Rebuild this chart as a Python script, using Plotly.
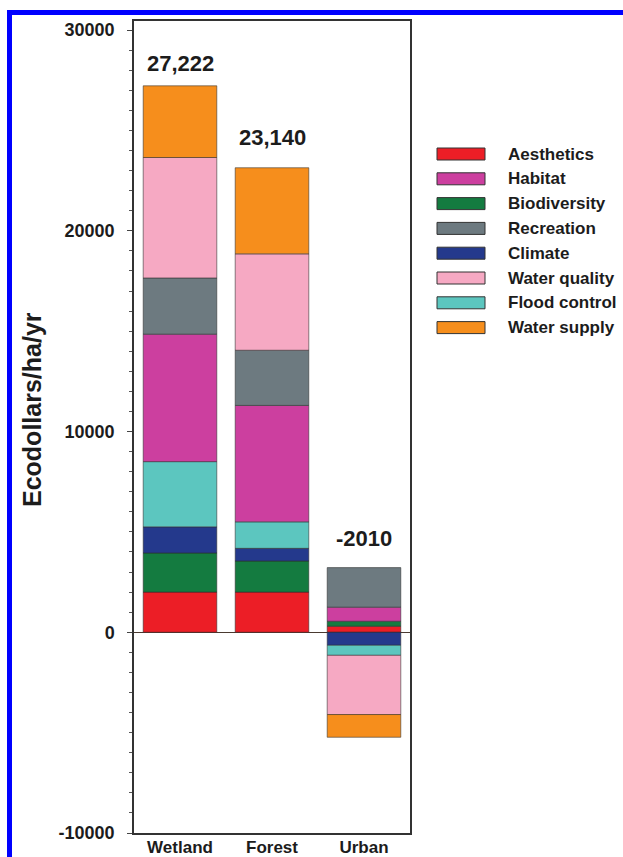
import plotly.graph_objects as go

# ---------------- data ----------------
categories = ["Wetland", "Forest", "Urban"]

# stacking order (alphabetical, as drawn in bars)
series_names = ["Aesthetics", "Biodiversity", "Climate", "Flood control",
                "Habitat", "Recreation", "Water quality", "Water supply"]
aesthetics    = [2000, 2000, 300]
biodiversity  = [1950, 1550, 250]
climate       = [1300, 630, -650]
flood_control = [3250, 1320, -500]
habitat       = [6350, 5800, 700]
recreation    = [2800, 2750, 1970]
water_quality = [6000, 4800, -2950]
water_supply  = [3572, 4290, -1130]

totals_text = ["27,222", "23,140", "-2010"]

legend_order = ["Aesthetics", "Habitat", "Biodiversity", "Recreation",
                "Climate", "Water quality", "Flood control", "Water supply"]

y_tickvals = [-10000, 0, 10000, 20000, 30000]
y_ticktext = ["-10000", "0", "10000", "20000", "30000"]

# ---------------- styles ----------------
colors = {
    "Aesthetics": "#EC1E26",
    "Habitat": "#CC3F9F",
    "Biodiversity": "#147B40",
    "Recreation": "#6D7A80",
    "Climate": "#24398C",
    "Water quality": "#F6A9C3",
    "Flood control": "#5CC6BF",
    "Water supply": "#F68E1C",
}
values = {
    "Aesthetics": aesthetics, "Biodiversity": biodiversity, "Climate": climate,
    "Flood control": flood_control, "Habitat": habitat, "Recreation": recreation,
    "Water quality": water_quality, "Water supply": water_supply,
}

W, H = 623, 857
L, R, T, B = 134, 410, 21, 833  # plot area in pixels
FONT = "Liberation Sans, Arial, Helvetica, sans-serif"
TXT = "#1c1c1c"


def px_x(px):
    return (px - L) / (R - L)


def px_y(py):
    return (B - py) / (B - T)


fig = go.Figure()
for name in series_names:
    fig.add_trace(go.Bar(
        x=categories, y=values[name], name=name,
        marker=dict(color=colors[name], line=dict(color="rgba(45,45,45,0.8)", width=0.7)),
        showlegend=False,
    ))

# total labels above each bar
pos_tops = [sum(v[i] for v in values.values() if v[i] > 0) for i in range(len(categories))]
label_shift = [22, 30, 29]
for i, cat in enumerate(categories):
    fig.add_annotation(x=cat, y=pos_tops[i], text=totals_text[i], showarrow=False,
                       yanchor="middle", yshift=label_shift[i],
                       font=dict(family=FONT, size=22, color=TXT, weight="bold"))

# y-axis title
fig.add_annotation(xref="paper", yref="paper", x=px_x(32), y=px_y(410),
                   text="Ecodollars/ha/yr", textangle=-90, showarrow=False,
                   xanchor="center", yanchor="middle",
                   font=dict(family=FONT, size=25, color=TXT, weight="bold"))

# custom legend (wide swatches)
for k, name in enumerate(legend_order):
    cy = 154 + k * 24.8
    fig.add_shape(type="rect", xref="paper", yref="paper",
                  x0=px_x(437), x1=px_x(485), y0=px_y(cy + 6), y1=px_y(cy - 6),
                  fillcolor=colors[name], line=dict(color="#333333", width=1))
    fig.add_annotation(xref="paper", yref="paper", x=px_x(506), y=px_y(cy),
                       text=name, showarrow=False, xanchor="left", yanchor="middle",
                       font=dict(family=FONT, size=17, color=TXT, weight="bold"))

# blue outer frame
fig.add_shape(type="rect", xref="paper", yref="paper",
              x0=px_x(9.5), x1=px_x(700), y0=px_y(920), y1=px_y(12.5),
              line=dict(color="#0000FF", width=5), fillcolor="rgba(0,0,0,0)", layer="above")

fig.update_layout(
    template="none",
    width=W, height=H,
    margin=dict(l=L, r=W - R, t=T, b=H - B, pad=0, autoexpand=False),
    barmode="relative", bargap=0.2,
    paper_bgcolor="white", plot_bgcolor="white",
    font=dict(family=FONT, color=TXT),
    showlegend=False,
)
fig.update_yaxes(
    automargin=False,
    range=[-10000, 30450], tickvals=y_tickvals, ticktext=y_ticktext,
    ticks="outside", ticklen=5, tickwidth=1, tickcolor="#444444",
    minor=dict(dtick=1000, ticks="outside", ticklen=3, tickwidth=1, tickcolor="#555555", showgrid=False),
    showline=True, linecolor="#333333", linewidth=1.5, mirror=True,
    showgrid=False, zeroline=True, zerolinecolor="#4a3a30", zerolinewidth=1,
    tickfont=dict(family=FONT, size=18, color=TXT, weight="bold"),
    ticklabelstandoff=9,
)
fig.update_xaxes(
    automargin=False,
    showline=True, linecolor="#333333", linewidth=1.5, mirror=True,
    ticks="", showgrid=False,
    tickfont=dict(family=FONT, size=17, color=TXT, weight="bold"),
    ticklabelstandoff=-2,
)

fig.write_html("out.html", config={"displayModeBar": False},
               post_script="document.body.style.margin='0';document.body.style.overflow='hidden';")
